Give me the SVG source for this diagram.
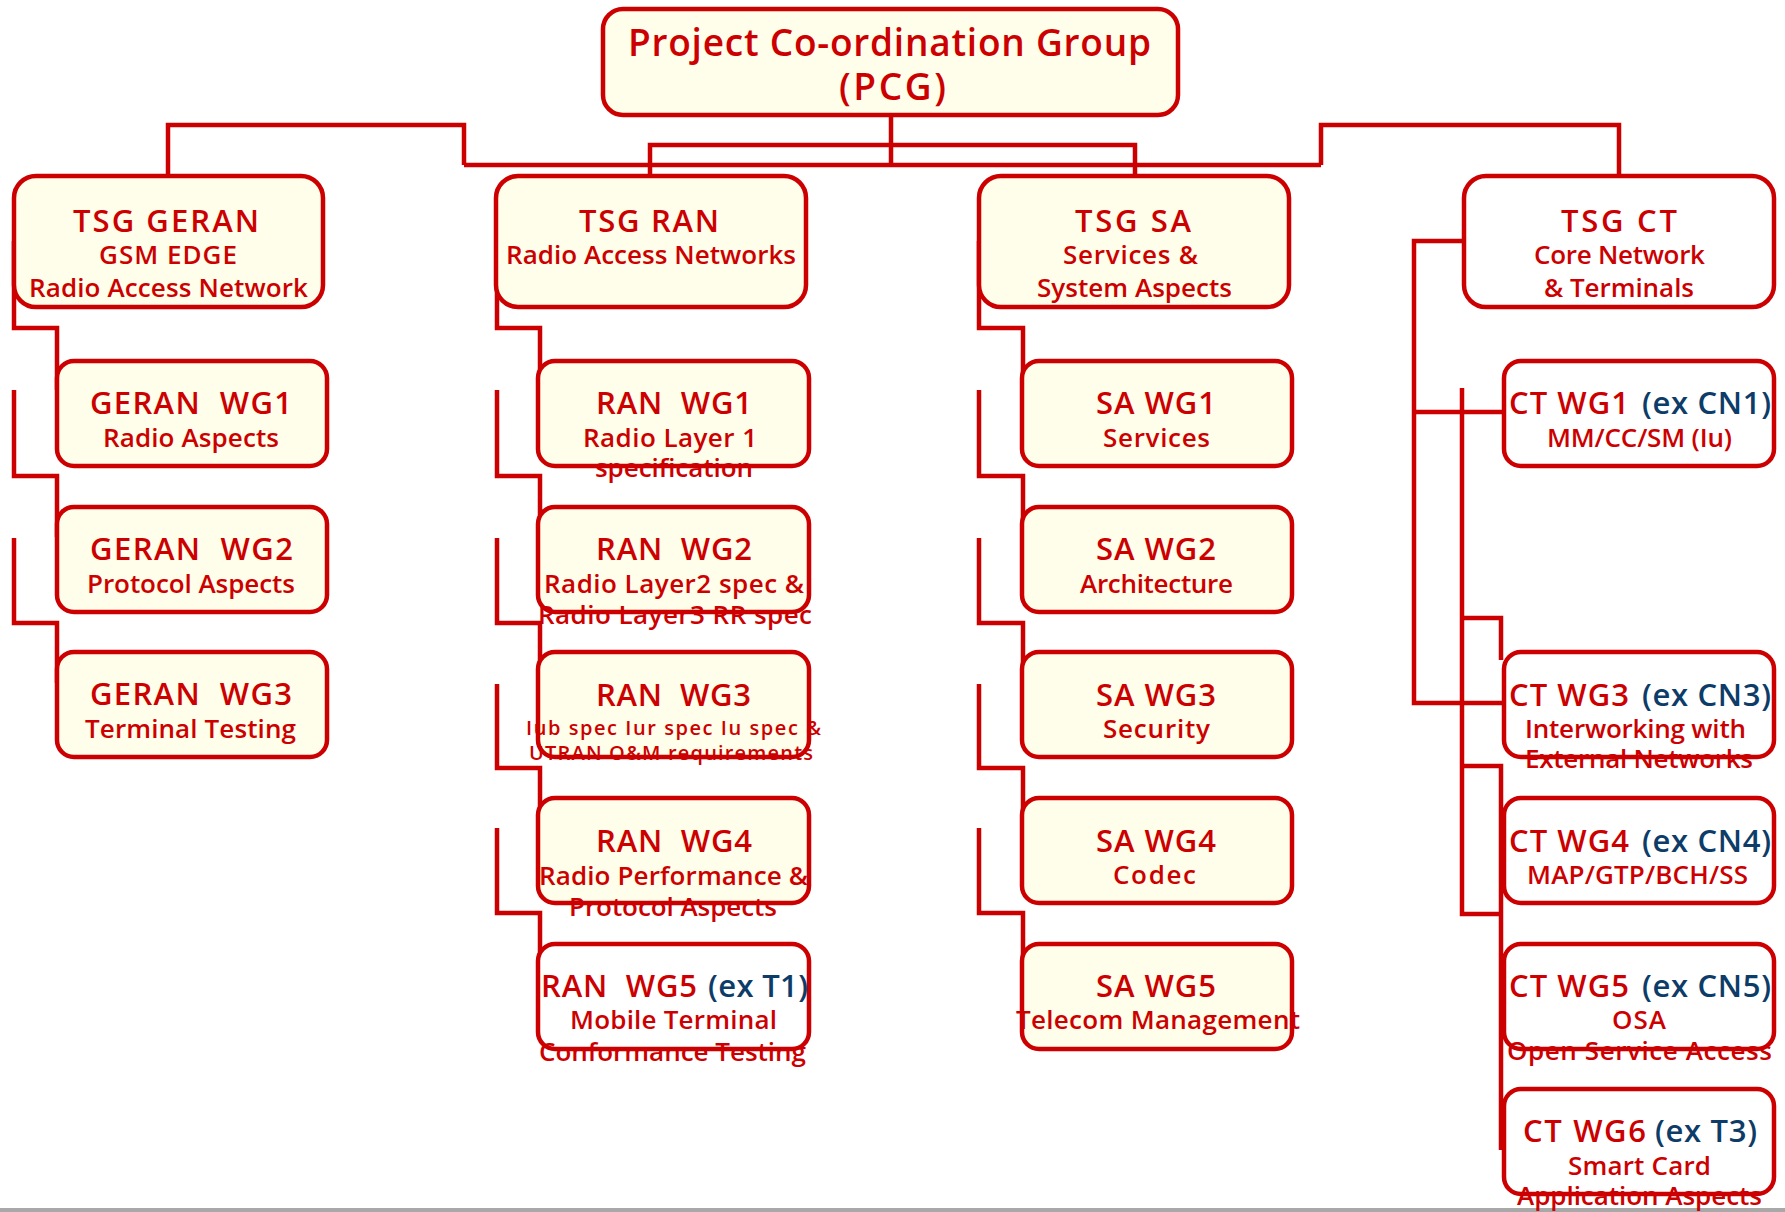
<svg xmlns="http://www.w3.org/2000/svg" width="1785" height="1212" viewBox="0 0 1785 1212">
  <style>
    .box { fill: #fffeea; stroke: #cc0000; stroke-width: 4.5; }
    .box.plain { fill: #ffffff; }
    .wire { fill: none; stroke: #cc0000; stroke-width: 4.5; stroke-linejoin: miter; stroke-linecap: butt; }
    text { font-family: "Open Sans", "Liberation Sans", sans-serif; fill: #cc0000; white-space: pre; }
    .head { font-size: 37px; font-weight: 600; }
    .t { font-size: 31px; font-weight: 600; }
    .s { font-size: 26px; font-weight: 600; }
    .xs { font-size: 20px; font-weight: 600; }
    .ex { fill: #0d3c68; }
  </style>

  <rect x="0" y="1208" width="1785" height="4" fill="#a8a8a8"/>

  <!-- connectors -->
  <g id="connectors" class="wire">
    <!-- PCG to the four TSGs -->
    <path d="M891,115 V165"/>
    <path d="M464,165 H1321"/>
    <path d="M464,165 V125 H168 V176"/>
    <path d="M1321,165 V125 H1619 V176"/>
    <path d="M650,176 V145 H1135 V176"/>
    <!-- GERAN stair steps -->
    <path d="M14,241 V328 H57 V390"/>
    <path d="M14,390 V476 H57 V537"/>
    <path d="M14,538 V623 H57 V683"/>
    <!-- RAN stair steps -->
    <path d="M497,241 V328 H540 V390"/>
    <path d="M497,390 V476 H540 V537"/>
    <path d="M497,538 V623 H540 V683"/>
    <path d="M497,684 V768 H540 V829"/>
    <path d="M497,828 V913 H540 V975"/>
    <!-- SA stair steps -->
    <path d="M979,241 V328 H1023 V390"/>
    <path d="M979,390 V476 H1023 V537"/>
    <path d="M979,538 V623 H1023 V683"/>
    <path d="M979,684 V768 H1023 V829"/>
    <path d="M979,828 V913 H1023 V975"/>
    <!-- CT bus -->
    <path d="M1464,241 H1414 V703 H1504"/>
    <path d="M1414,412 H1504"/>
    <path d="M1462,388 V914 H1501"/>
    <path d="M1462,618 H1501 V660"/>
    <path d="M1462,766 H1501 V1150"/>
  </g>

  <!-- top level -->
  <g id="pcg">
    <rect class="box" x="603" y="9" width="575" height="106" rx="20"/>
    <text class="head" x="628" y="56" textLength="523" lengthAdjust="spacing">Project Co-ordination Group</text>
    <text class="head" x="839" y="100" textLength="107" lengthAdjust="spacing">(PCG)</text>
  </g>

  <!-- technical specification groups -->
  <g id="tsg-geran">
    <rect class="box" x="14" y="176" width="309" height="131" rx="22"/>
    <text class="t" x="73" y="232" textLength="186" lengthAdjust="spacing">TSG GERAN</text>
    <text class="s" x="99" y="264" textLength="138" lengthAdjust="spacing">GSM EDGE</text>
    <text class="s" x="29" y="297" textLength="279" lengthAdjust="spacing">Radio Access Network</text>
  </g>
  <g id="tsg-ran">
    <rect class="box" x="496" y="176" width="310" height="131" rx="22"/>
    <text class="t" x="579" y="232" textLength="140" lengthAdjust="spacing">TSG RAN</text>
    <text class="s" x="506" y="264" textLength="290" lengthAdjust="spacing">Radio Access Networks</text>
  </g>
  <g id="tsg-sa">
    <rect class="box" x="979" y="176" width="310" height="131" rx="22"/>
    <text class="t" x="1075" y="232" textLength="116" lengthAdjust="spacing">TSG SA</text>
    <text class="s" x="1063" y="264" textLength="135" lengthAdjust="spacing">Services &amp;</text>
    <text class="s" x="1037" y="297" textLength="195" lengthAdjust="spacing">System Aspects</text>
  </g>
  <g id="tsg-ct">
    <rect class="box plain" x="1464" y="176" width="310" height="131" rx="22"/>
    <text class="t" x="1561" y="232" textLength="116" lengthAdjust="spacing">TSG CT</text>
    <text class="s" x="1534" y="264" textLength="171" lengthAdjust="spacing">Core Network</text>
    <text class="s" x="1544" y="297" textLength="150" lengthAdjust="spacing">&amp; Terminals</text>
  </g>

  <!-- GERAN working groups -->
  <g id="geran-wg1">
    <rect class="box" x="57" y="361" width="270" height="105" rx="17"/>
    <text class="t" x="90" y="414" textLength="202" lengthAdjust="spacing">GERAN  WG1</text>
    <text class="s" x="103" y="447" textLength="176" lengthAdjust="spacing">Radio Aspects</text>
  </g>
  <g id="geran-wg2">
    <rect class="box" x="57" y="507" width="270" height="105" rx="17"/>
    <text class="t" x="90" y="560" textLength="203" lengthAdjust="spacing">GERAN  WG2</text>
    <text class="s" x="87" y="593" textLength="208" lengthAdjust="spacing">Protocol Aspects</text>
  </g>
  <g id="geran-wg3">
    <rect class="box" x="57" y="652" width="270" height="105" rx="17"/>
    <text class="t" x="90" y="705" textLength="202" lengthAdjust="spacing">GERAN  WG3</text>
    <text class="s" x="85" y="738" textLength="211" lengthAdjust="spacing">Terminal Testing</text>
  </g>

  <!-- RAN working groups -->
  <g id="ran-wg1">
    <rect class="box" x="538" y="361" width="271" height="105" rx="17"/>
    <text class="t" x="596" y="414" textLength="156" lengthAdjust="spacing">RAN  WG1</text>
    <text class="s" x="583" y="447" textLength="174" lengthAdjust="spacing">Radio Layer 1</text>
    <text class="s" x="595" y="477" textLength="158" lengthAdjust="spacing">specification</text>
  </g>
  <g id="ran-wg2">
    <rect class="box" x="538" y="507" width="271" height="105" rx="17"/>
    <text class="t" x="596" y="560" textLength="156" lengthAdjust="spacing">RAN  WG2</text>
    <text class="s" x="544" y="593" textLength="260" lengthAdjust="spacing">Radio Layer2 spec &amp;</text>
    <text class="s" x="538" y="624" textLength="274" lengthAdjust="spacing">Radio Layer3 RR spec</text>
  </g>
  <g id="ran-wg3">
    <rect class="box" x="538" y="652" width="271" height="105" rx="17"/>
    <text class="t" x="596" y="706" textLength="155" lengthAdjust="spacing">RAN  WG3</text>
    <text class="xs" x="526" y="735" textLength="295" lengthAdjust="spacing">Iub spec Iur spec Iu spec &amp;</text>
    <text class="xs" x="529" y="760" textLength="284" lengthAdjust="spacing">UTRAN O&amp;M requirements</text>
  </g>
  <g id="ran-wg4">
    <rect class="box" x="538" y="798" width="271" height="105" rx="17"/>
    <text class="t" x="596" y="852" textLength="156" lengthAdjust="spacing">RAN  WG4</text>
    <text class="s" x="539" y="885" textLength="269" lengthAdjust="spacing">Radio Performance &amp;</text>
    <text class="s" x="569" y="916" textLength="208" lengthAdjust="spacing">Protocol Aspects</text>
  </g>
  <g id="ran-wg5">
    <rect class="box plain" x="538" y="944" width="271" height="105" rx="17"/>
    <text class="t" x="541" y="997" textLength="156" lengthAdjust="spacing">RAN  WG5</text>
    <text class="t ex" x="708" y="997" textLength="100" lengthAdjust="spacing">(ex T1)</text>
    <text class="s" x="570" y="1029" textLength="207" lengthAdjust="spacing">Mobile Terminal</text>
    <text class="s" x="539" y="1061" textLength="267" lengthAdjust="spacing">Conformance Testing</text>
  </g>

  <!-- SA working groups -->
  <g id="sa-wg1">
    <rect class="box" x="1022" y="361" width="270" height="105" rx="17"/>
    <text class="t" x="1096" y="414" textLength="120" lengthAdjust="spacing">SA WG1</text>
    <text class="s" x="1103" y="447" textLength="107" lengthAdjust="spacing">Services</text>
  </g>
  <g id="sa-wg2">
    <rect class="box" x="1022" y="507" width="270" height="105" rx="17"/>
    <text class="t" x="1096" y="560" textLength="120" lengthAdjust="spacing">SA WG2</text>
    <text class="s" x="1080" y="593" textLength="153" lengthAdjust="spacing">Architecture</text>
  </g>
  <g id="sa-wg3">
    <rect class="box" x="1022" y="652" width="270" height="105" rx="17"/>
    <text class="t" x="1096" y="706" textLength="120" lengthAdjust="spacing">SA WG3</text>
    <text class="s" x="1103" y="738" textLength="107" lengthAdjust="spacing">Security</text>
  </g>
  <g id="sa-wg4">
    <rect class="box" x="1022" y="798" width="270" height="105" rx="17"/>
    <text class="t" x="1096" y="852" textLength="120" lengthAdjust="spacing">SA WG4</text>
    <text class="s" x="1113" y="884" textLength="83" lengthAdjust="spacing">Codec</text>
  </g>
  <g id="sa-wg5">
    <rect class="box" x="1022" y="944" width="270" height="105" rx="17"/>
    <text class="t" x="1096" y="997" textLength="120" lengthAdjust="spacing">SA WG5</text>
    <text class="s" x="1016" y="1029" textLength="284" lengthAdjust="spacing">Telecom Management</text>
  </g>

  <!-- CT working groups -->
  <g id="ct-wg1">
    <rect class="box plain" x="1504" y="361" width="270" height="105" rx="17"/>
    <text class="t" x="1509" y="414" textLength="120" lengthAdjust="spacing">CT WG1</text>
    <text class="t ex" x="1642" y="414" textLength="129" lengthAdjust="spacing">(ex CN1)</text>
    <text class="s" x="1547" y="447" textLength="185" lengthAdjust="spacing">MM/CC/SM (Iu)</text>
  </g>
  <g id="ct-wg3">
    <rect class="box plain" x="1504" y="652" width="270" height="105" rx="17"/>
    <text class="t" x="1509" y="706" textLength="120" lengthAdjust="spacing">CT WG3</text>
    <text class="t ex" x="1642" y="706" textLength="129" lengthAdjust="spacing">(ex CN3)</text>
    <text class="s" x="1525" y="738" textLength="221" lengthAdjust="spacing">Interworking with</text>
    <text class="s" x="1525" y="768" textLength="228" lengthAdjust="spacing">External Networks</text>
  </g>
  <g id="ct-wg4">
    <rect class="box plain" x="1504" y="798" width="270" height="105" rx="17"/>
    <text class="t" x="1509" y="852" textLength="120" lengthAdjust="spacing">CT WG4</text>
    <text class="t ex" x="1642" y="852" textLength="129" lengthAdjust="spacing">(ex CN4)</text>
    <text class="s" x="1527" y="884" textLength="221" lengthAdjust="spacing">MAP/GTP/BCH/SS</text>
  </g>
  <g id="ct-wg5">
    <rect class="box plain" x="1504" y="944" width="270" height="105" rx="17"/>
    <text class="t" x="1509" y="997" textLength="120" lengthAdjust="spacing">CT WG5</text>
    <text class="t ex" x="1642" y="997" textLength="129" lengthAdjust="spacing">(ex CN5)</text>
    <text class="s" x="1612" y="1029" textLength="54" lengthAdjust="spacing">OSA</text>
    <text class="s" x="1507" y="1060" textLength="265" lengthAdjust="spacing">Open Service Access</text>
  </g>
  <g id="ct-wg6">
    <rect class="box plain" x="1504" y="1089" width="270" height="105" rx="17"/>
    <text class="t" x="1523" y="1142" textLength="123" lengthAdjust="spacing">CT WG6</text>
    <text class="t ex" x="1655" y="1142" textLength="102" lengthAdjust="spacing">(ex T3)</text>
    <text class="s" x="1568" y="1175" textLength="143" lengthAdjust="spacing">Smart Card</text>
    <text class="s" x="1517" y="1205" textLength="245" lengthAdjust="spacing">Application Aspects</text>
  </g>
</svg>
